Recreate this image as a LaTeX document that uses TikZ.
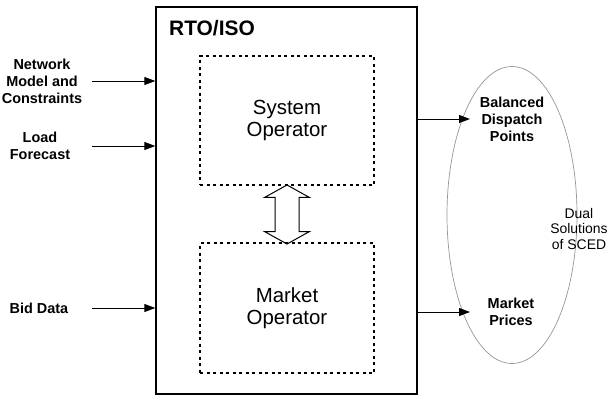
\documentclass[tikz,border=0pt]{standalone}
\usepackage{fontspec}
\setmainfont{Liberation Sans}
\usetikzlibrary{positioning, arrows.meta, shapes.geometric, shapes.arrows, calc}
\definecolor{ellgray}{RGB}{150, 150, 150}
\tikzset{
  rtobox/.style={
    draw,
    line width=1.3bp,
    minimum width=261bp,
    minimum height=387bp,
    inner sep=0pt
  },
  opbox/.style={
    draw,
    line width=1.2bp,
    dash pattern=on 3bp off 3.5bp,
    minimum width=174bp,
    minimum height=129bp,
    align=center,
    font=\fontsize{20.5}{22}\selectfont
  },
  datatext/.style={
    align=center,
    inner sep=0pt,
    font=\bfseries\fontsize{14.5}{17}\selectfont
  },
  soltext/.style={
    align=center,
    inner sep=0pt,
    font=\fontsize{14}{16}\selectfont
  },
  every edge/.style={
    draw,
    line width=1bp,
    -{Triangle[length=11bp, width=8bp]}
  }
}

\begin{document}
\begin{tikzpicture}[x=1bp, y=-1bp]
  \useasboundingbox (0,0) rectangle (609,396);
  \node[rtobox] (rto) at (286.5, 200.5) {};
  \node[anchor=west, inner sep=0pt, font=\bfseries\fontsize{21}{24}\selectfont] (title) at (169, 28) {RTO/ISO};
  \node[opbox] (sysop) at (287, 120.5) {System\\Operator};
  \node[opbox, minimum height=130bp] (mktop) at (287, 308) {Market\\Operator};
  \node[double arrow, draw, line width=1bp, rotate=90, inner sep=11.5bp,
        minimum height=59bp, double arrow head extend=10.5bp,
        double arrow tip angle=122] (link) at (287, 214.5) {};

  \node[ellipse, draw=ellgray, line width=0.7bp, minimum width=130bp, minimum height=297bp, inner sep=0pt] (sced) at (512, 215) {};

  \node[datatext] (net) at (42, 81) {Network\\Model and\\Constraints};
  \node[datatext] (load) at (40, 146) {Load\\Forecast};
  \node[datatext] (bid) at (39, 308) {Bid Data};
  \node[datatext] (bdp) at (512, 119) {Balanced\\Dispatch\\Points};
  \node[datatext] (mkp) at (511, 312) {Market\\Prices};
  \node[soltext] (dual) at (579, 229) {Dual\\Solutions\\of SCED};

  \coordinate (in) at (92, 0);
  \coordinate (out) at (470, 0);
  \path (in |- net) edge (rto.west |- net)
        (in |- load) edge (rto.west |- load)
        (in |- bid) edge (rto.west |- bid)
        (rto.east |- bdp) edge (out |- bdp)
        (rto.east |- mkp) edge (out |- mkp);
\end{tikzpicture}
\end{document}
